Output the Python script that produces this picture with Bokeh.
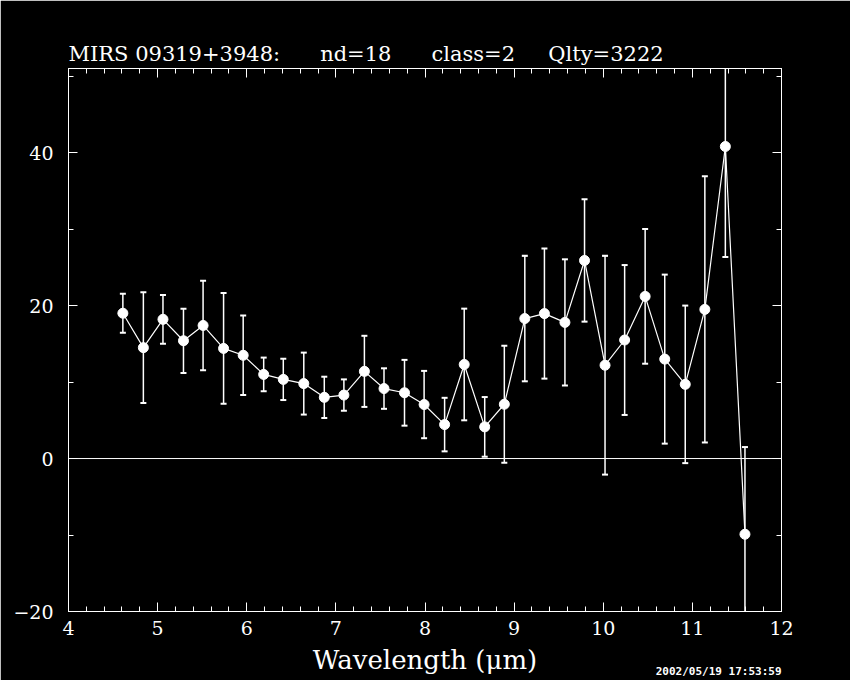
from bokeh.plotting import figure
from bokeh.models import (LinearAxis, FixedTicker, Span, Title, ColumnDataSource, Range1d)
from bokeh.embed import file_html
from bokeh.resources import INLINE

# ---- data ----
wavelength = [4.61, 4.84, 5.06, 5.29, 5.51, 5.74, 5.96, 6.19, 6.41, 6.64,
              6.87, 7.09, 7.32, 7.54, 7.77, 7.99, 8.22, 8.44, 8.67, 8.89,
              9.12, 9.34, 9.57, 9.79, 10.02, 10.24, 10.47, 10.69, 10.92, 11.14,
              11.37, 11.59]
flux = [19.0, 14.5, 18.2, 15.4, 17.4, 14.4, 13.5, 11.0, 10.35, 9.8,
        8.0, 8.3, 11.4, 9.15, 8.6, 7.06, 4.44, 12.3, 4.14, 7.1,
        18.3, 18.95, 17.8, 25.9, 12.2, 15.5, 21.2, 13.0, 9.7, 19.5,
        40.8, -9.9]
flux_err = [2.55, 7.25, 3.2, 4.2, 5.85, 7.25, 5.2, 2.2, 2.7, 4.05,
            2.7, 2.05, 4.65, 2.65, 4.3, 4.4, 3.5, 7.3, 3.9, 7.65,
            8.2, 8.5, 8.25, 8.0, 14.3, 9.8, 8.8, 11.05, 10.3, 17.4,
            14.45, 11.4]

x_major = [4, 5, 6, 7, 8, 9, 10, 11, 12]
y_major = [-20, 0, 20, 40]
y_minor = [-20, -10, 0, 10, 20, 30, 40, 50]

title_parts = ["MIRS 09319+3948:", "nd=18", "class=2", "Qlty=3222"]
title_gaps = [6, 6, 5]   # non-breaking spaces between title parts
x_label = "Wavelength (\u03bcm)"
stamp = "2002/05/19 17:53:59"

lower = [f - e for f, e in zip(flux, flux_err)]
upper = [f + e for f, e in zip(flux, flux_err)]
src = ColumnDataSource(dict(x=wavelength, y=flux, lo=lower, hi=upper))

NB = "\u00a0"
title_text = title_parts[0]
for gap, part in zip(title_gaps, title_parts[1:]):
    title_text += NB * gap + part

W, H = 850, 680
p = figure(width=W, height=H, output_backend="svg", toolbar_location=None,
           x_range=Range1d(4, 12), y_range=Range1d(-20, 51),
           min_border_left=68, min_border_right=69, min_border_top=68,
           min_border_bottom=69, x_axis_location=None, y_axis_location=None,
           title=title_text)
p.background_fill_color = "black"
p.border_fill_color = "black"
p.outline_line_color = "white"
p.outline_line_width = 1
p.xgrid.visible = False
p.ygrid.visible = False

serif = "DejaVu Serif"
p.title.text_color = "white"
p.title.text_font = serif
p.title.text_font_size = "21px"
p.title.text_font_style = "normal"
p.title.align = "left"
p.title.offset = 0
p.title.standoff = 6

minor_x = [round(4 + 0.2 * i, 2) for i in range(41)]

def make_axis(kind, show_labels):
    if kind == "x":
        ax = LinearAxis(ticker=FixedTicker(ticks=x_major, minor_ticks=minor_x))
    else:
        ax = LinearAxis(ticker=FixedTicker(ticks=y_major, minor_ticks=y_minor),
                        major_label_overrides={-20: "\u221220"})
    ax.axis_line_color = "white"
    ax.major_tick_line_color = "white"
    ax.minor_tick_line_color = "white"
    ax.major_tick_in = 9
    ax.major_tick_out = 0
    ax.minor_tick_in = 5
    ax.minor_tick_out = 0
    ax.major_label_text_color = "white"
    ax.major_label_text_font = serif
    if show_labels:
        ax.major_label_text_font_size = "19px"
        ax.major_label_standoff = 9 if kind == "x" else 15
    else:
        ax.major_label_text_font_size = "0px"
        ax.major_label_text_alpha = 0
        ax.major_label_standoff = 0
    return ax

xb = make_axis("x", True)
xb.axis_label = x_label
xb.axis_label_text_color = "white"
xb.axis_label_text_font = serif
xb.axis_label_text_font_size = "26px"
xb.axis_label_text_font_style = "normal"
xb.axis_label_standoff = 7
p.add_layout(xb, "below")
p.add_layout(make_axis("x", False), "above")
p.add_layout(make_axis("y", True), "left")
p.add_layout(make_axis("y", False), "right")

# time stamp, bottom right under the frame
p.add_layout(Title(text=stamp, align="right", vertical_align="top", text_color="white",
                   text_font="DejaVu Sans Mono", text_font_style="bold",
                   text_font_size="11px", standoff=-26, offset=0), "below")

# zero line
p.add_layout(Span(location=0, dimension="width", line_color="white", line_width=1))

# error bars (clipped to frame as glyphs)
p.segment(x0="x", y0="lo", x1="x", y1="hi", source=src, line_color="white", line_width=1.5)
p.scatter(x="x", y="lo", source=src, marker="dash", size=6, line_color="white", line_width=2)
p.scatter(x="x", y="hi", source=src, marker="dash", size=6, line_color="white", line_width=2)

# connecting line and points
p.line(x="x", y="y", source=src, line_color="white", line_width=1.2)
p.scatter(x="x", y="y", source=src, marker="circle", size=10,
          fill_color="white", line_color="white")

open("out.html", "w").write(file_html(p, INLINE))
